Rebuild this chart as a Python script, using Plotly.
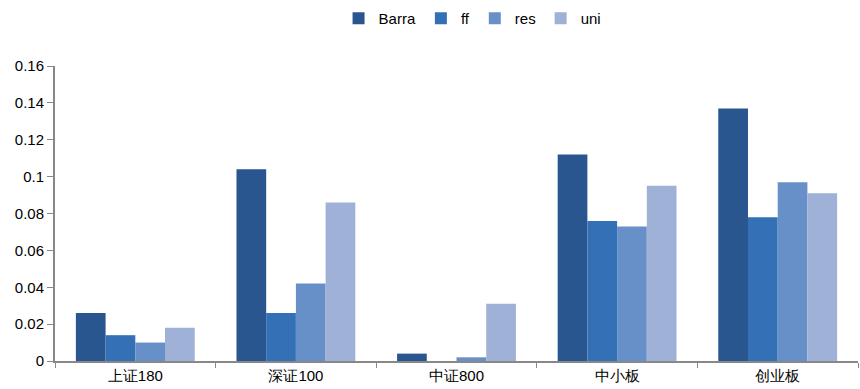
import plotly.graph_objects as go

categories = ["上证180", "深证100", "中证800", "中小板", "创业板"]
barra = [0.026, 0.104, 0.004, 0.112, 0.137]
ff = [0.014, 0.026, 0.0, 0.076, 0.078]
res = [0.010, 0.042, 0.002, 0.073, 0.097]
uni = [0.018, 0.086, 0.031, 0.095, 0.091]

series = [("Barra", barra, "#2a5690"), ("ff", ff, "#3370b6"),
          ("res", res, "#6890c8"), ("uni", uni, "#9fb1d6")]

fig = go.Figure()
for name, vals, color in series:
    fig.add_trace(go.Bar(x=categories, y=vals, name=name,
                         marker=dict(color=color, line=dict(width=0))))

fig.update_layout(
    width=860, height=389,
    margin=dict(l=55, r=2, t=66, b=28),
    paper_bgcolor="white", plot_bgcolor="white",
    barmode="group", bargap=0.26, bargroupgap=0,
    font=dict(family="Liberation Sans, Arial, sans-serif", size=14, color="#000"),
    legend=dict(orientation="h", x=0.52, xanchor="center", y=0.995, yanchor="top",
                yref="container", font=dict(size=15), itemwidth=30,
                traceorder="normal", tracegroupgap=0),
    showlegend=True,
)
fig.update_xaxes(showline=True, linecolor="#888", linewidth=2, ticks="outside",
                 tickson="boundaries", ticklen=5, tickcolor="#888",
                 tickfont=dict(size=15), showgrid=False)
fig.update_yaxes(range=[0, 0.16], dtick=0.02, showline=True, linecolor="#888",
                 linewidth=2, ticks="outside", ticklen=6, tickcolor="#888",
                 showgrid=False, zeroline=False, tickformat="~g",
                 tickfont=dict(size=15))

fig.write_html("out.html")
